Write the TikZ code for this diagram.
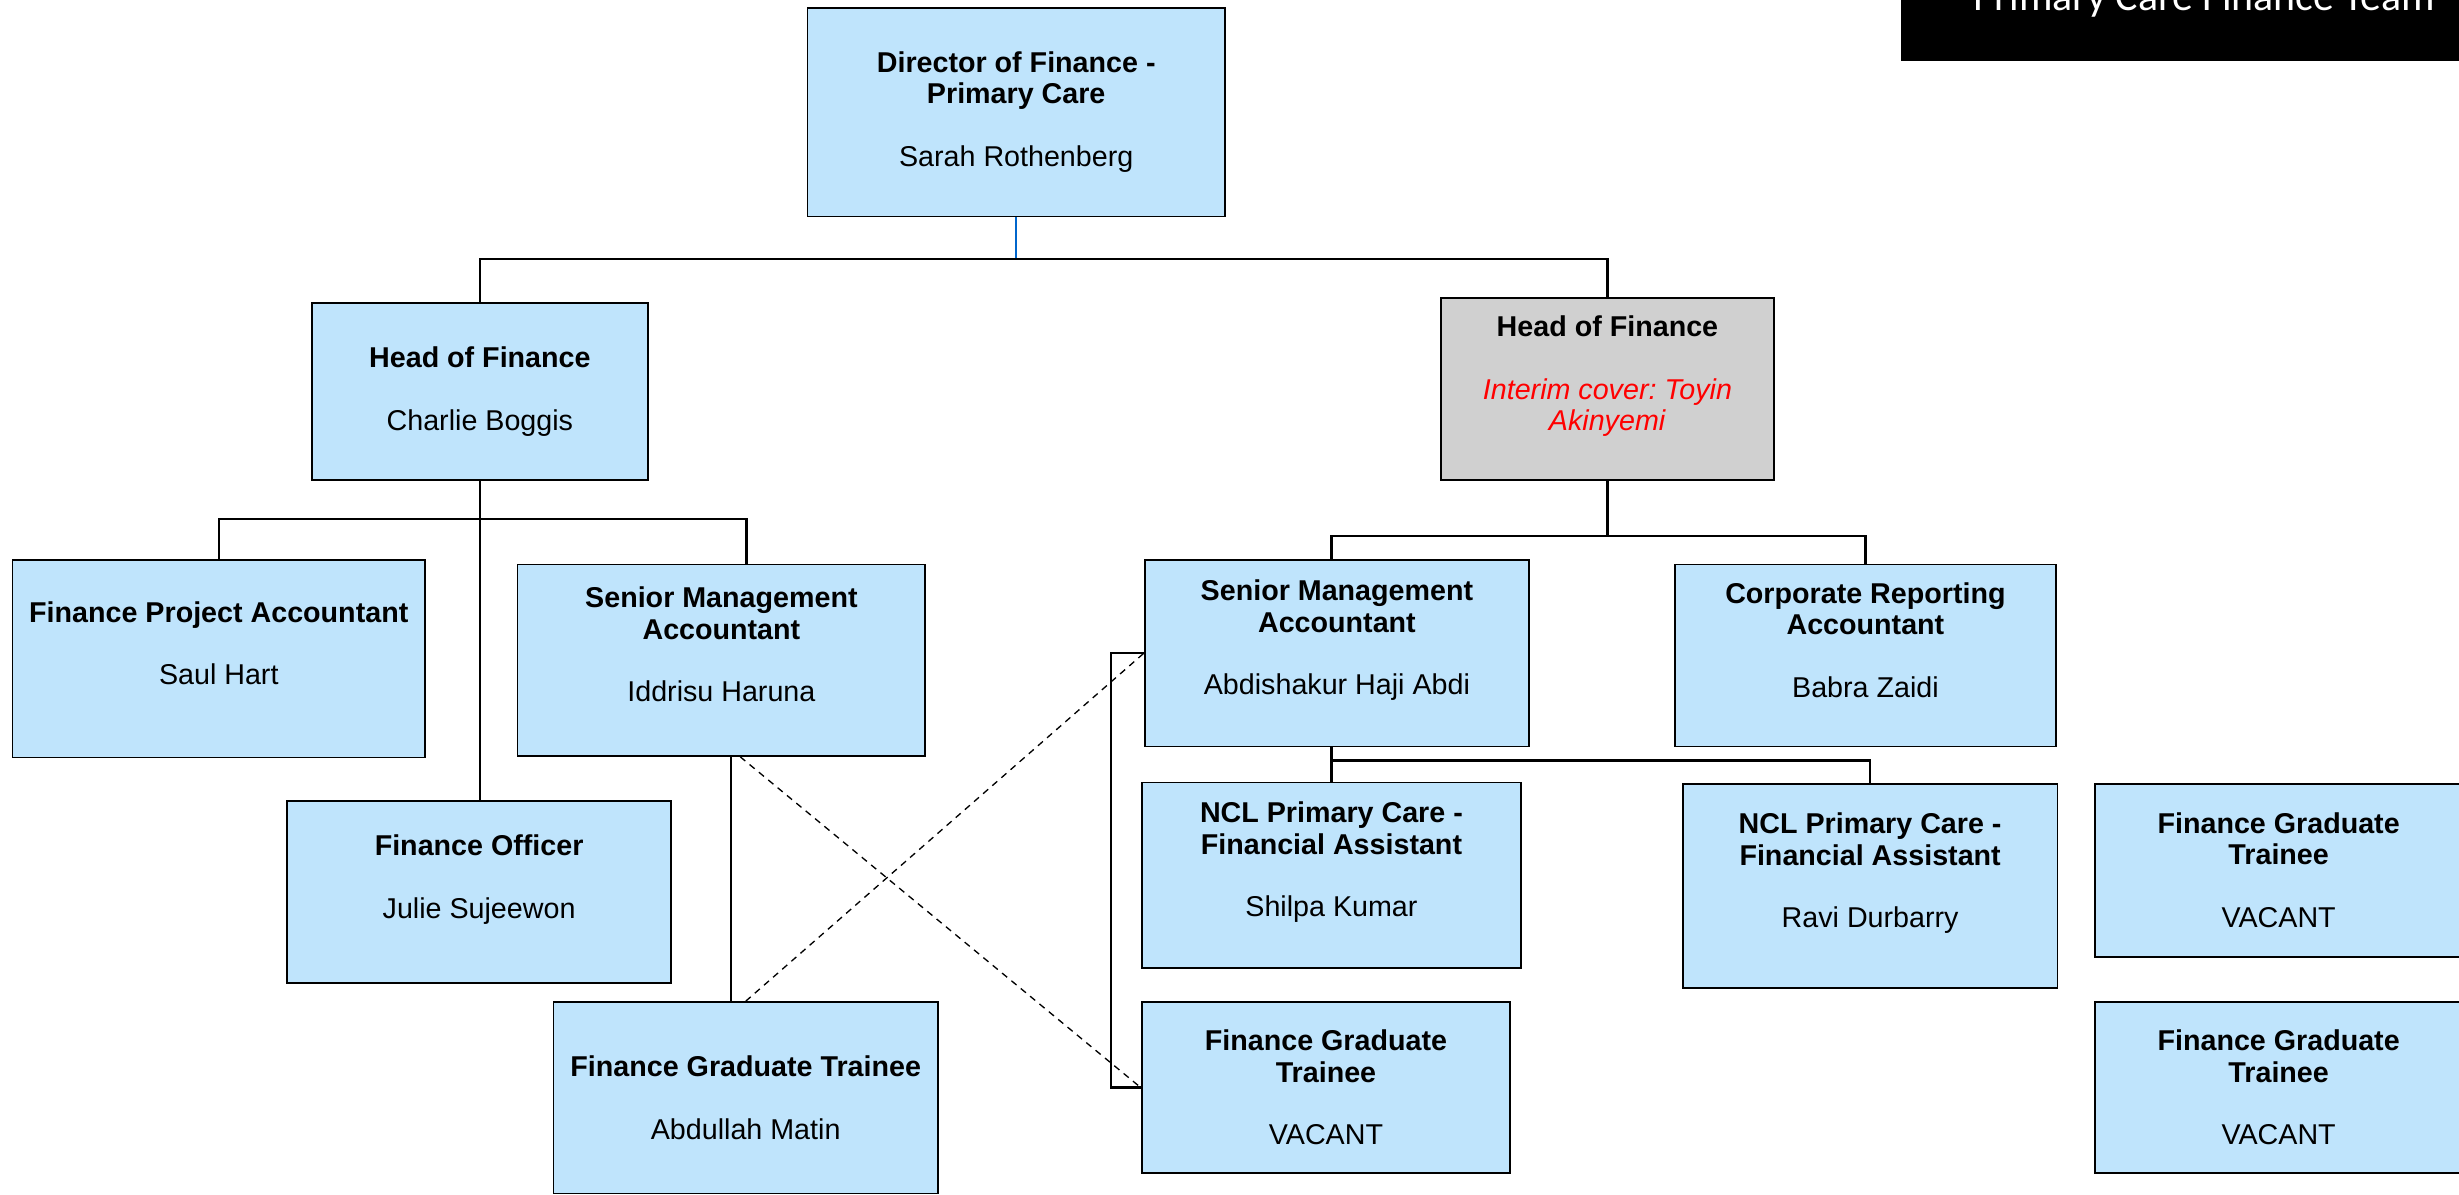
\documentclass[tikz,border=0pt]{standalone}
\usepackage{fontspec}
\setmainfont{Liberation Sans}
\newfontfamily\bannerfont{Carlito}
\usepackage{xcolor}
\usetikzlibrary{positioning,calc}
\definecolor{postblue}{RGB}{191,228,252}
\definecolor{postgrey}{RGB}{208,208,208}
\definecolor{linkblue}{RGB}{0,102,204}
\frenchspacing

\begin{document}
\begin{tikzpicture}[x=0.025cm, y=-0.025cm,
    post/.style={draw=black, line width=0.8pt, fill=postblue, align=center, inner sep=0pt,
        font=\fontsize{13}{14.2}\selectfont},
    link/.style={line width=1pt},
    dashlink/.style={line width=0.6pt, dash pattern=on 3pt off 2.5pt}]
    \useasboundingbox (0,0) rectangle (1568,762);

    % banner
    \fill[black] (1212,-10) rectangle (1600,39);
    \node[anchor=base west, text=white, inner sep=0pt, font=\bannerfont\fontsize{19}{22}\selectfont] (banner) at (1258,6.6) {Primary Care Finance Team};

    \node[post, minimum width=6.65cm, minimum height=3.325cm] (dir) at (648,71.5) {\textbf{Director of Finance -}\\\textbf{Primary Care}\\[\baselineskip]Sarah Rothenberg};

    \node[post, minimum width=5.35cm, minimum height=2.825cm] (hofL) at (306,249.5) {\textbf{Head of Finance}\\[\baselineskip]Charlie Boggis};
    \node[post, fill=postgrey, minimum width=5.3cm, minimum height=2.9cm] (hofR) at (1025,248) {\textbf{Head of Finance}\\[\baselineskip]\textcolor{red}{\textit{Interim cover: Toyin}}\\\textcolor{red}{\textit{Akinyemi}}\\\mbox{}};

    \node[post, minimum width=6.575cm, minimum height=3.15cm] (fpa) at (139.5,420) {\textbf{Finance Project Accountant}\\[\baselineskip]Saul Hart\\\mbox{}};
    \node[post, minimum width=6.5cm, minimum height=3.05cm] (smaL) at (460,421) {\textbf{Senior Management}\\\textbf{Accountant}\\[\baselineskip]Iddrisu Haruna\\\mbox{}};
    \node[post, minimum width=6.125cm, minimum height=2.9cm] (fo) at (305.5,569) {\textbf{Finance Officer}\\[\baselineskip]Julie Sujeewon\\\mbox{}};
    \node[post, minimum width=6.125cm, minimum height=3.05cm] (fgtL) at (475.5,700) {\textbf{Finance Graduate Trainee}\\[\baselineskip]Abdullah Matin};

    \node[post, minimum width=6.125cm, minimum height=2.975cm] (smaR) at (852.5,416.5) {\textbf{Senior Management}\\\textbf{Accountant}\\[\baselineskip]Abdishakur Haji Abdi\\\mbox{}};
    \node[post, minimum width=6.075cm, minimum height=2.9cm] (cra) at (1189.5,418) {\textbf{Corporate Reporting}\\\textbf{Accountant}\\[\baselineskip]Babra Zaidi\\\mbox{}};
    \node[post, minimum width=6.05cm, minimum height=2.95cm] (nclS) at (849,558) {\textbf{NCL Primary Care -}\\\textbf{Financial Assistant}\\[\baselineskip]Shilpa Kumar\\\mbox{}};
    \node[post, minimum width=5.975cm, minimum height=3.25cm] (nclR) at (1192.5,565) {\textbf{NCL Primary Care -}\\\textbf{Financial Assistant}\\[\baselineskip]Ravi Durbarry\\\mbox{}};
    \node[post, minimum width=5.875cm, minimum height=2.725cm] (fgtM) at (845.5,693.5) {\textbf{Finance Graduate}\\\textbf{Trainee}\\[\baselineskip]VACANT};
    \node[post, minimum width=5.85cm, minimum height=2.75cm] (fgtA) at (1453,555) {\textbf{Finance Graduate}\\\textbf{Trainee}\\[\baselineskip]VACANT};
    \node[post, minimum width=5.85cm, minimum height=2.725cm] (fgtB) at (1453,693.5) {\textbf{Finance Graduate}\\\textbf{Trainee}\\[\baselineskip]VACANT};

    \coordinate (top) at (648,165);
    \coordinate (busL) at (306,331);
    \coordinate (busR) at (1025,342);
    \coordinate (busN) at (849,485);

    \draw[link, linkblue] (dir.south) -- (top);
    \draw[link] (hofL.north) |- (top) -| (hofR.north);

    \draw[link] (hofL.south) -- (hofL.south |- fo.north);
    \draw[link] (fpa.north) |- (busL) -| ($(smaL.north)+(16,0)$);
    \draw[link] ($(smaL.south)+(6,0)$) coordinate (drop) -- (drop |- fgtL.north);
    \draw[dashlink] ($(smaL.south)+(12,0)$) -- (fgtM.west);
    \draw[dashlink] (fgtL.north) -- (smaR.west);
    \draw[link] (smaR.west) -- ++(-21,0) |- (fgtM.west);

    \draw[link] (hofR.south) -- (busR);
    \draw[link] (nclS.north |- smaR.north) |- (busR) -| (cra.north);
    \draw[link] (smaR.south -| nclS.north) -- (nclS.north);
    \draw[link] (busN) -| (nclR.north);
\end{tikzpicture}
\end{document}
